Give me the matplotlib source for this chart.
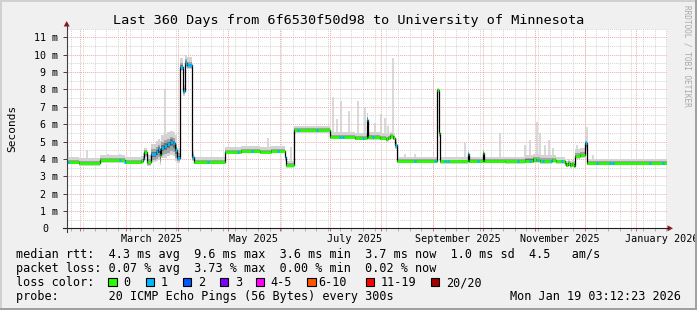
import datetime as dt
import numpy as np
import matplotlib
matplotlib.use("Agg")
import matplotlib.pyplot as plt
from matplotlib.patches import Rectangle, Polygon
from matplotlib.lines import Line2D
from matplotlib.transforms import Affine2D

# ---------------- data ----------------
title = "Last 360 Days from 6f6530f50d98 to University of Minnesota"
start = dt.datetime(2025, 1, 24, 3, 12, 23)
span_days = 360

# median rtt step segments: start day, median (ms), loss bucket, smoke top, smoke bottom
seg_day = [0.0, 7.2, 19.8, 34.8, 44.7, 45.6, 46.5, 48.3, 50.4, 53.4, 54.6, 55.8,
           56.7, 58.2, 60.0, 61.8, 63.6, 64.8, 66.0, 67.8, 69.6, 70.8, 72.0, 75.4,
           76.2, 94.8, 104.4, 115.8, 122.4, 131.0, 131.7, 136.4, 158.0, 172.8,
           180.2, 180.9, 187.8, 191.4, 192.6, 193.8, 195.6, 197.1, 198.3, 222.3,
           223.5, 224.1, 240.6, 241.5, 249.8, 250.5, 262.8, 274.8, 279.6, 281.4,
           283.8, 291.0, 293.4, 298.8, 299.7, 300.6, 301.8, 303.0, 304.2, 305.1,
           307.8, 310.8, 312.3]
seg_med = [3.82, 3.74, 3.92, 3.80, 3.85, 4.00, 4.38, 3.80, 4.30, 4.40, 4.55, 4.20,
           4.65, 4.75, 4.85, 5.00, 4.90, 4.50, 4.05, 9.30, 7.90, 9.55, 9.40, 4.10,
           3.82, 4.42, 4.45, 4.42, 4.48, 4.10, 3.65, 5.66, 5.28, 5.20,
           6.25, 5.25, 5.20, 5.15, 5.22, 5.30, 5.20, 4.80, 3.88, 7.96,
           5.50, 3.85, 4.28, 3.88, 4.35, 3.88, 3.85, 3.90, 4.00, 3.95,
           3.88, 3.92, 3.85, 3.75, 3.65, 3.75, 3.62, 3.70, 3.60, 4.15,
           4.22, 4.90, 3.74]
seg_loss = [0, 0, 0, 0, 0, 1, 0, 0, 1, 1, 1, 0,
            1, 1, 1, 1, 1, 1, 1, 1, 1, 1, 1, 1,
            0, 0, 0, 0, 0, 1, 0, 0, 0, 0,
            1, 0, 0, 0, 0, 0, 0, 1, 0, 0,
            0, 0, 1, 0, 0, 0, 0, 0, 0, 0,
            0, 0, 0, 0, 0, 0, 0, 0, 0, 0,
            0, 1, 0]
seg_top = [4.10, 4.05, 4.20, 4.10, 4.15, 4.35, 4.65, 4.25, 4.85, 5.05, 5.15, 5.05,
           5.35, 5.45, 5.55, 5.60, 5.55, 5.35, 4.65, 9.80, 8.25, 10.0, 9.85, 4.45,
           4.10, 4.68, 4.72, 4.68, 4.74, 4.35, 3.90, 5.90, 5.55, 5.48,
           6.65, 5.55, 5.50, 5.45, 5.50, 5.55, 5.48, 5.15, 4.10, 8.08,
           5.75, 4.10, 4.50, 4.12, 4.55, 4.12, 4.12, 4.22, 4.30, 4.30,
           4.20, 4.20, 4.10, 4.00, 3.90, 4.00, 3.90, 3.95, 3.90, 4.55,
           4.60, 5.25, 4.00]
seg_bot = [3.68, 3.60, 3.78, 3.68, 3.70, 3.78, 4.08, 3.58, 3.80, 3.85, 3.95, 3.65,
           4.05, 4.05, 4.15, 4.25, 4.15, 3.85, 3.78, 9.05, 7.65, 9.25, 9.20, 3.88,
           3.68, 4.30, 4.31, 4.30, 4.33, 3.88, 3.50, 5.50, 5.13, 5.06,
           5.90, 5.10, 5.06, 5.00, 5.08, 5.13, 5.06, 4.58, 3.76, 7.80,
           5.28, 3.70, 4.08, 3.74, 4.13, 3.74, 3.72, 3.74, 3.78, 3.78,
           3.73, 3.76, 3.70, 3.60, 3.53, 3.60, 3.50, 3.56, 3.48, 3.98,
           4.03, 4.48, 3.62]

# single polls with one lost ping on otherwise loss-free stretches
blue_days = [0.6, 32.0, 34.8, 85.0, 103.0, 111.0, 126.6, 139.0, 150.0, 164.0,
             166.0, 178.0, 184.0, 208.8, 220.8, 226.8, 229.0, 247.0, 271.0,
             277.8, 283.0, 285.8, 290.8, 297.0, 318.0, 325.8, 327.8, 349.8, 357.6]

# tall light-grey smoke spikes (max ping)
spike_day = [0.6, 12.0, 25.0, 31.8, 59.2, 121.0, 134.6, 160.0, 162.0, 164.4, 169.4,
             175.0, 179.0, 185.0, 188.4, 191.0, 193.0, 196.0, 202.8, 208.8, 239.0,
             260.0, 274.8, 277.8, 282.0, 283.8, 286.8, 289.2, 291.6, 306.0, 312.0, 316.0]
spike_top = [4.5, 4.5, 4.3, 4.3, 8.0, 5.2, 4.7, 7.58, 6.3, 7.35, 6.77,
             7.35, 7.0, 6.06, 6.6, 6.35, 5.9, 9.8, 4.3, 4.3, 4.9,
             5.47, 4.8, 5.1, 6.14, 5.5, 4.8, 5.1, 4.6, 4.8, 5.85, 4.2]

month_labels = ["March 2025", "May 2025", "July 2025", "September 2025",
                "November 2025", "January 2026"]
legend_lines = [
    "median rtt:  4.3 ms avg  9.6 ms max  3.6 ms min  3.7 ms now  1.0 ms sd  4.5   am/s",
    "packet loss: 0.07 % avg  3.73 % max  0.00 % min  0.02 % now",
]
loss_labels = ["0", "1", "2", "3", "4-5", "6-10", "11-19", "20/20"]
loss_colors = ["#26ff00", "#00b8ff", "#0059ff", "#7e00ff", "#ff00ff",
               "#ff5500", "#ff0000", "#a00000"]
probe_text = "probe:       20 ICMP Echo Pings (56 Bytes) every 300s"
stamp_text = "Mon Jan 19 03:12:23 2026"

# ---------------- layout ----------------
W, H = 697, 310
MONO = "DejaVu Sans Mono"
plt.rcParams['font.family'] = [MONO, 'DejaVu Sans']

fig = plt.figure(figsize=(W / 100, H / 100), dpi=100, facecolor="#f0f0f0")
pix = Affine2D().scale(1 / W, -1 / H).translate(0, 1) + fig.transFigure

AX_L, AX_R, AX_T, AX_B = 66.7, 666.7, 28.7, 228.3
ax = fig.add_axes([AX_L / W, 1 - AX_B / H, (AX_R - AX_L) / W, (AX_B - AX_T) / H])
ax.set_facecolor("white")
ax.set_xlim(0, span_days)
ax.set_ylim(0, 11.5)
for s in ax.spines.values():
    s.set_visible(False)

def day_of(d):
    return (d - start).total_seconds() / 86400.0

# month starts & Monday weeks
month_starts = []
y, m = 2025, 2
while True:
    d = dt.datetime(y, m, 1)
    if day_of(d) > span_days:
        break
    month_starts.append(d)
    m += 1
    if m > 12:
        m, y = 1, y + 1
major_x = [day_of(d) for d in month_starts]
wk = dt.datetime(2025, 1, 27)
minor_x = []
while day_of(wk) < span_days:
    minor_x.append(day_of(wk))
    wk += dt.timedelta(days=7)

minor_col = "#d4d4d4"
major_col = "#efaaaa"
dash = (0, (1, 1))
for xv in minor_x:
    ax.axvline(xv, color=minor_col, lw=0.7, ls=dash, zorder=0.5)
for yv in np.arange(0.5, 11.6, 1.0):
    ax.axhline(yv, color=minor_col, lw=0.7, ls=dash, zorder=0.5)
for xv in major_x:
    ax.axvline(xv, color=major_col, lw=0.7, ls=dash, zorder=0.6)
for yv in range(1, 12):
    ax.axhline(yv, color=major_col, lw=0.7, ls=dash, zorder=0.6)

# ---------------- data drawing ----------------
sd = np.array(seg_day)
se = np.append(sd[1:], span_days)
med = np.array(seg_med)
top = np.array(seg_top)
bot = np.array(seg_bot)
xe = np.append(sd, span_days)

def ext(a):
    return np.append(a, a[-1])

def med_at(days):
    idx = np.searchsorted(sd, np.asarray(days), side="right") - 1
    return med[idx]

# spikes
ax.vlines(spike_day, med_at(spike_day), spike_top, color="#d2d2d2", lw=1.2, zorder=1)
# smoke
ax.fill_between(xe, ext(bot), ext(top), step="post", color="#d3d3d3", lw=0, zorder=1.2)
in_lo = med - 0.7 * (med - bot)
in_hi = med + 0.45 * (top - med)
ax.fill_between(xe, ext(in_lo), ext(in_hi), step="post", color="#a3a3a3", lw=0, zorder=1.3)
core_lo = med - 0.35 * (med - bot)
core_hi = med + 0.2 * (top - med)
ax.fill_between(xe, ext(core_lo), ext(core_hi), step="post", color="#707070", lw=0, zorder=1.4)

# median
ax.step(xe, ext(med), where="post", color="black", lw=0.9, zorder=2)
ax.hlines(med, sd, se, colors=[loss_colors[l] for l in seg_loss], lw=2.0, zorder=3)
bd = np.array(blue_days)
ax.hlines(med_at(bd), bd - 0.6, bd + 0.6, colors=loss_colors[1], lw=2.0, zorder=3.1)

# ---------------- axes decoration ----------------
ax.set_xticks(major_x)
ax.set_xticks(minor_x, minor=True)
ax.set_xticklabels([])
ax.tick_params(axis="x", which="major", direction="out", length=2.5, width=0.7,
               color="#e06060", labelbottom=False)
ax.tick_params(axis="x", which="minor", direction="out", length=2.0, width=0.7,
               color="#b0b0b0")
ax.set_yticks(range(0, 12))
ax.set_yticklabels([""] + [f"{i} m" for i in range(1, 12)])
ax.tick_params(axis="y", direction="out", length=2.8, width=0.7, color="#404040",
               labelsize=7.2, pad=3.2)
for lab in ax.get_yticklabels():
    lab.set_family(MONO)
fig.text(45.0, AX_B, "0", transform=pix, ha="center", va="center_baseline",
         fontsize=7.2, family=MONO)

xt = ax.get_xaxis_transform()
for i, lab in enumerate(month_labels):
    d0 = month_starts[1 + 2 * i]
    ax.text(day_of(d0) + 15, -0.028, lab, transform=xt, ha="center", va="top",
            fontsize=7.3, family=MONO, clip_on=False)

# axis lines + arrows
fig.add_artist(Line2D([62.5, 668], [AX_B, AX_B], transform=pix, color="#202020", lw=0.8))
fig.add_artist(Line2D([AX_L, AX_L], [AX_B + 3.5, 25], transform=pix, color="#404040", lw=0.8))
arrow_col = "#8b1a1a"
fig.add_artist(Polygon([[AX_L - 3, 26.5], [AX_L + 3, 26.5], [AX_L, 21]], closed=True,
                       transform=pix, color=arrow_col, lw=0))
fig.add_artist(Polygon([[667.5, AX_B - 3], [667.5, AX_B + 3], [673, AX_B]], closed=True,
                       transform=pix, color=arrow_col, lw=0))

# frame shading
fig.add_artist(Rectangle((0, 0), W, 1.5, transform=pix, color="#d0d0d0", lw=0))
fig.add_artist(Rectangle((0, 0), 1.5, H, transform=pix, color="#d0d0d0", lw=0))
fig.add_artist(Rectangle((0, H - 2), W, 2, transform=pix, color="#a0a0a0", lw=0))
fig.add_artist(Rectangle((W - 2, 0), 2, H, transform=pix, color="#a0a0a0", lw=0))

# texts
fig.text(348.5, 24, title, transform=pix, ha="center", va="baseline",
         fontsize=9.7, family=MONO)
fig.text(12, AX_T + (AX_B - AX_T) / 2, "Seconds", transform=pix, rotation=90,
         ha="center", va="center", fontsize=8.0, family=MONO)
fig.text(686.5, 5, "RRDTOOL / TOBI OETIKER", transform=pix, rotation=270,
         ha="center", va="top", fontsize=5.6, family=MONO, color="#a8a8a8")

LEG = 8.5
fig.text(16, 258.3, legend_lines[0], transform=pix, ha="left", va="baseline",
         fontsize=LEG, family=MONO)
fig.text(16, 272.2, legend_lines[1], transform=pix, ha="left", va="baseline",
         fontsize=LEG, family=MONO)
fig.text(16, 286.0, "loss color:", transform=pix, ha="left", va="baseline",
         fontsize=LEG, family=MONO)
box_x = [108.3, 145.7, 182.7, 219.7, 256.0, 307.3, 365.7, 430.7]
label_x = [123.3, 161.0, 197.7, 234.7, 270.7, 318.3, 380.7, 445.7]
for bx, lx, lab, col in zip(box_x, label_x, loss_labels, loss_colors):
    fig.add_artist(Rectangle((bx, 277.6), 8.3, 8.8, transform=pix, facecolor=col,
                             edgecolor="black", lw=0.8))
    fig.text(lx, 286.0, lab, transform=pix, ha="left", va="baseline",
             fontsize=LEG, family=MONO)
fig.text(16, 300.0, probe_text, transform=pix, ha="left", va="baseline",
         fontsize=LEG, family=MONO)
fig.text(680.5, 300.0, stamp_text, transform=pix, ha="right", va="baseline",
         fontsize=LEG, family=MONO)

fig.savefig("out.png", dpi=100, facecolor=fig.get_facecolor())
